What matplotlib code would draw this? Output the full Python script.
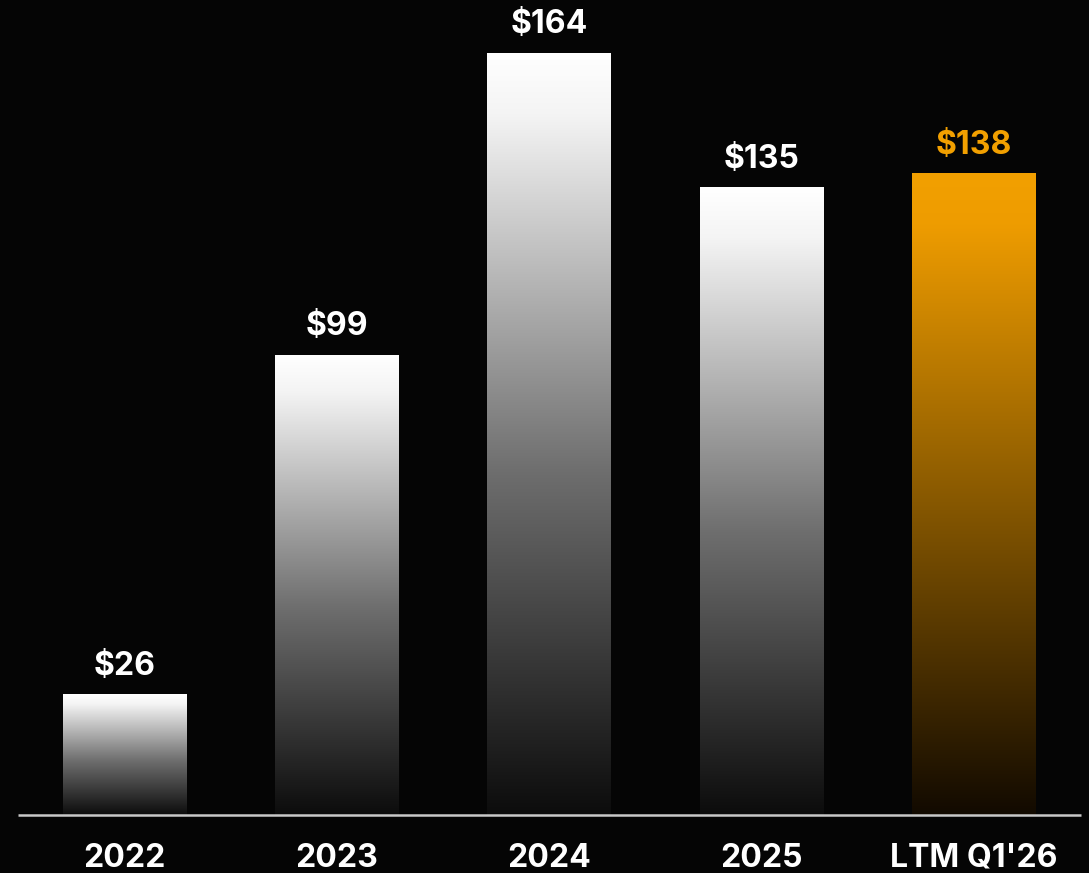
import numpy as np
import matplotlib
matplotlib.use("Agg")
import matplotlib.pyplot as plt
from matplotlib.colors import LinearSegmentedColormap

# Revenue by period ($M)
categories = ["2022", "2023", "2024", "2025", "LTM Q1'26"]
values = [26, 99, 164, 135, 138]
labels = ["$26", "$99", "$164", "$135", "$138"]
highlight = [False, False, False, False, True]

BG = "#050505"
ORANGE = "#f2a000"

plt.rcParams['font.family'] = ['Inter', 'DejaVu Sans']

fig = plt.figure(figsize=(10.89, 8.73), dpi=100, facecolor=BG)
ax = fig.add_axes([0, 0, 1, 1])
ax.set_facecolor(BG)

x = np.arange(len(categories))

bars = ax.bar(x, values, width=0.58, color="none", edgecolor="none", zorder=2)

grey_cmap = LinearSegmentedColormap.from_list(
    "grey", [(0, "#0c0c0c"), (0.45, "#6e6e6e"), (0.92, "#f4f4f4"), (1, "#ffffff")])
orange_cmap = LinearSegmentedColormap.from_list(
    "orng", [(0, "#120a00"), (0.45, "#7e5200"), (0.92, "#ee9c00"), (1, ORANGE)])
grad = np.linspace(0, 1, 256).reshape(-1, 1)

# fill each bar with a vertical gradient clipped to its rectangle
for bar, hl in zip(bars, highlight):
    x0 = bar.get_x()
    w = bar.get_width()
    h = bar.get_height()
    cmap = orange_cmap if hl else grey_cmap
    im = ax.imshow(grad, cmap=cmap, origin="lower", aspect="auto",
                   extent=(x0, x0 + w, 0, h), zorder=1, interpolation="bicubic")
    im.set_clip_path(bar)

ax.set_xlim(-0.587, 4.545)
ax.set_ylim(-12.47, 175.3)

# baseline
ax.plot([-0.50, 4.505], [0, 0], color="#c8c8c8", lw=1.8, zorder=3,
        solid_capstyle="butt")

for xi, v, lab, hl in zip(x, values, labels, highlight):
    ax.annotate(lab, (xi, v), xytext=(0, 9), textcoords="offset points",
                ha="center", va="bottom", fontsize=23, fontweight="bold",
                color=ORANGE if hl else "white")

for xi, cat in zip(x, categories):
    ax.text(xi, -9.3, cat, ha="center", va="center", fontsize=23,
            fontweight="bold", color="white")

ax.axis("off")
fig.savefig("out.png", dpi=100, facecolor=BG)
